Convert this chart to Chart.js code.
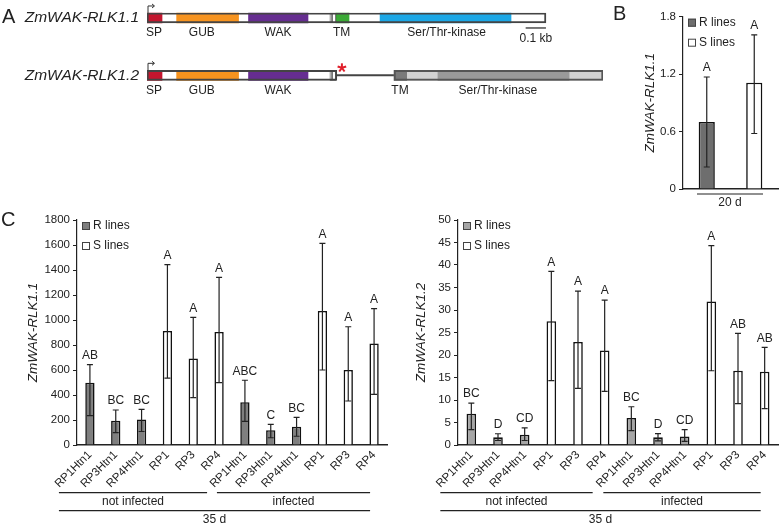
<!DOCTYPE html>
<html>
<head>
<meta charset="utf-8">
<script src="https://cdn.jsdelivr.net/npm/chart.js@4.4.1/dist/chart.umd.min.js"></script>
<style>
  body { margin: 0; background: #fff; width: 782px; height: 526px; overflow: hidden; position: relative; }
  canvas { position: absolute; }
</style>
</head>
<body>
<canvas id="geneA" width="610" height="140" style="left:0;top:-20px"></canvas>
<canvas id="chartB" width="182" height="215" style="left:600px;top:0"></canvas>
<canvas id="chartC1" width="391" height="321" style="left:0;top:205px"></canvas>
<canvas id="chartC2" width="391" height="321" style="left:391px;top:205px"></canvas>
<script>
// ---- panel A : gene models (positions in bp) ----
const geneRows = ['ZmWAK-RLK1.1', 'ZmWAK-RLK1.2'];
const geneSpan = [[0, 1965], [0, 935]];
const tailSpan = [null, [1217, 2246]];
const intronLine = [null, [935, 1217]];
const spDomain = [[0, 74], [0, 74]];
const gubDomain = [[146, 451], [146, 451]];
const wakDomain = [[500, 793], [500, 793]];
const tmBoxA = [[901, 911], [901, 911]];
const tmBoxB = [[911, 931], [911, 931]];
const tmDomain = [[931, 995], [1217, 1279]];
const kinaseDomain = [[1148, 1793], [1433, 2079]];
const domainLabels = ['SP', 'GUB', 'WAK', 'TM', 'Ser/Thr-kinase'];
const labelPos1 = [34, 270, 645, 959, 1476];
const labelPos2 = [34, 270, 645, 1246, 1728];
const scaleBar = [1865, 1965];
const stopCodon = 960;

// ---- panel B ----
const bLabels = ['R lines', 'S lines'];
const bMean = [0.70, 1.11];
const bLow = [0.23, 0.58];
const bHigh = [1.17, 1.61];
const bLetters = ['A', 'A'];

// ---- panel C ----
const lines = ['RP1Htn1', 'RP3Htn1', 'RP4Htn1', 'RP1', 'RP3', 'RP4',
               'RP1Htn1', 'RP3Htn1', 'RP4Htn1', 'RP1', 'RP3', 'RP4'];
const lineType = ['R', 'R', 'R', 'S', 'S', 'S', 'R', 'R', 'R', 'S', 'S', 'S'];
const rlk11Mean = [499, 195, 205, 912, 693, 905, 343, 118, 147, 1073, 600, 813];
const rlk11Low = [235, 99, 108, 535, 379, 499, 189, 58, 70, 600, 352, 405];
const rlk11High = [643, 280, 285, 1443, 1021, 1341, 518, 165, 221, 1613, 946, 1091];
const rlk11Letters = ['AB', 'BC', 'BC', 'A', 'A', 'A', 'ABC', 'C', 'BC', 'A', 'A', 'A'];
const rlk12Mean = [6.97, 1.7, 2.3, 27.5, 22.9, 21.0, 6.0, 1.7, 1.9, 31.9, 16.5, 16.3];
const rlk12Low = [3.4, 1.0, 1.0, 14.3, 12.6, 11.9, 3.2, 0.9, 0.8, 16.5, 9.2, 8.1];
const rlk12High = [9.3, 2.5, 3.8, 38.6, 34.2, 32.2, 8.5, 2.55, 3.4, 44.3, 24.8, 21.7];
const rlk12Letters = ['BC', 'D', 'CD', 'A', 'A', 'A', 'BC', 'D', 'CD', 'A', 'AB', 'AB'];
const groupNames = ['not infected', 'infected'];
const groupIdx = [[0, 5], [6, 11]];

const FONT = '"Liberation Sans", Arial, sans-serif';
Chart.defaults.font.family = FONT;
Chart.defaults.color = '#222';
const INK = '#222';

// ---------- panel A ----------
function seg(data, color, order, extra) {
  return Object.assign({ data: data, backgroundColor: color, order: order, grouped: false,
    barThickness: 10, borderSkipped: false }, extra || {});
}

const geneDecor = {
  id: 'geneDecor',
  afterDatasetsDraw(chart) {
    const ctx = chart.ctx;
    const x = chart.scales.x;
    const ys = chart.getDatasetMeta(0).data.map(b => b.y);
    ctx.save();
    ctx.fillStyle = INK;
    ctx.textBaseline = 'middle';
    ctx.font = '20px ' + FONT;
    ctx.fillText('A', 2, ys[0]);
    ctx.font = 'italic 15.5px ' + FONT;
    ctx.textAlign = 'right';
    geneRows.forEach((g, i) => ctx.fillText(g, 139, ys[i]));
    // domain labels
    ctx.font = '12px ' + FONT;
    ctx.textAlign = 'center';
    domainLabels.forEach((t, k) => {
      ctx.fillText(t, x.getPixelForValue(labelPos1[k]), ys[0] + 15);
      ctx.fillText(t, x.getPixelForValue(labelPos2[k]), ys[1] + 15);
    });
    // transcription start arrows
    ctx.strokeStyle = '#333';
    ctx.lineWidth = 1;
    ys.forEach(y => {
      const x0 = x.getPixelForValue(0) + 1;
      ctx.beginPath();
      ctx.moveTo(x0, y - 5);
      ctx.lineTo(x0, y - 12);
      ctx.lineTo(x0 + 6, y - 12);
      ctx.stroke();
      ctx.beginPath();
      ctx.moveTo(x0 + 4, y - 14);
      ctx.lineTo(x0 + 6.5, y - 12);
      ctx.lineTo(x0 + 4, y - 10);
      ctx.stroke();
    });
    // scale bar
    ctx.lineWidth = 1.3;
    ctx.beginPath();
    ctx.moveTo(x.getPixelForValue(scaleBar[0]), ys[0] + 10);
    ctx.lineTo(x.getPixelForValue(scaleBar[1]), ys[0] + 10);
    ctx.stroke();
    ctx.fillText('0.1 kb', x.getPixelForValue((scaleBar[0] + scaleBar[1]) / 2), ys[0] + 21);
    // premature stop codon asterisk
    const cx = x.getPixelForValue(stopCodon), cy = ys[1] - 7.5;
    ctx.strokeStyle = '#e0202c';
    ctx.lineWidth = 2;
    for (let a = 0; a < 5; a++) {
      const ang = -Math.PI / 2 + a * 2 * Math.PI / 5;
      ctx.beginPath();
      ctx.moveTo(cx, cy);
      ctx.lineTo(cx + 4.5 * Math.cos(ang), cy + 4.5 * Math.sin(ang));
      ctx.stroke();
    }
    ctx.restore();
  }
};

new Chart(document.getElementById('geneA'), {
  type: 'bar',
  data: {
    labels: geneRows,
    datasets: [
      seg(geneSpan, '#ffffff', 10),
      seg(tailSpan, '#d2d2d2', 9),
      seg(intronLine, '#444', 8, { barThickness: 1.3 }),
      seg(spDomain, '#c4162e', 5),
      seg(gubDomain, '#f7931e', 5),
      seg(wakDomain, '#662d91', 5),
      seg(tmDomain, ['#3aaa35', '#7a7a7a'], 5),
      seg(kinaseDomain, ['#1aa7e6', '#9a9a9a'], 5),
      seg(tmBoxA, '#ffffff', 3, { borderColor: '#333', borderWidth: 1 }),
      seg(tmBoxB, '#ffffff', 3, { borderColor: '#333', borderWidth: 1 }),
      seg(geneSpan, 'rgba(0,0,0,0)', 1, { borderColor: '#444', borderWidth: 1.3 }),
      seg(tailSpan, 'rgba(0,0,0,0)', 1, { borderColor: '#555', borderWidth: 1.3 })
    ]
  },
  options: {
    indexAxis: 'y',
    responsive: false,
    animation: false,
    layout: { padding: { left: 147, right: 7, top: 9.3, bottom: 16 } },
    scales: {
      x: { type: 'linear', min: 0, max: 2246, display: false },
      y: { display: false }
    },
    plugins: { legend: { display: false }, tooltip: { enabled: false } }
  },
  plugins: [geneDecor]
});

// ---------- bar panels B and C ----------
function decor(cfg) {
  return {
    id: 'decor',
    afterDatasetsDraw(chart) {
      const ctx = chart.ctx;
      const area = chart.chartArea;
      const xs = chart.scales.x, ys = chart.scales.y;
      ctx.save();
      ctx.fillStyle = INK;
      // panel letter
      ctx.font = '20px ' + FONT;
      ctx.textBaseline = 'middle';
      ctx.textAlign = 'left';
      ctx.fillText(cfg.letter, cfg.letterX, cfg.letterY);
      // y title
      ctx.save();
      ctx.translate(cfg.titleX, (area.top + area.bottom) / 2);
      ctx.rotate(-Math.PI / 2);
      ctx.textAlign = 'center';
      ctx.font = 'italic 13.5px ' + FONT;
      ctx.fillText(cfg.title, 0, 0);
      ctx.restore();
      // legend
      ctx.font = '12px ' + FONT;
      ['R lines', 'S lines'].forEach((t, i) => {
        const ly = area.top + 6 + i * 20;
        ctx.fillStyle = i === 0 ? cfg.rColor : '#fff';
        ctx.fillRect(area.left + 5, ly - 4, 8, 8);
        ctx.strokeStyle = '#444';
        ctx.lineWidth = 1;
        ctx.strokeRect(area.left + 5.5, ly - 3.5, 7, 7);
        ctx.fillStyle = INK;
        ctx.fillText(t, area.left + 16, ly);
      });
      // error bars and letters
      ctx.strokeStyle = INK;
      ctx.lineWidth = 1.2;
      ctx.textAlign = 'center';
      ctx.textBaseline = 'bottom';
      cfg.low.forEach((lo, i) => {
        const cx = xs.getPixelForValue(i);
        const yl = ys.getPixelForValue(lo), yh = ys.getPixelForValue(cfg.high[i]);
        ctx.beginPath();
        ctx.moveTo(cx, yl); ctx.lineTo(cx, yh);
        ctx.moveTo(cx - 3, yl); ctx.lineTo(cx + 3, yl);
        ctx.moveTo(cx - 3, yh); ctx.lineTo(cx + 3, yh);
        ctx.stroke();
        ctx.fillText(cfg.letters[i], cx, yh - 3);
      });
      // group lines under the axis
      ctx.textBaseline = 'middle';
      ctx.lineWidth = 1.2;
      (cfg.groups || []).forEach(g => {
        const x1 = g.from === null ? area.left + g.padL : xs.getPixelForValue(g.from) + g.padL;
        const x2 = g.to === null ? area.right + g.padR : xs.getPixelForValue(g.to) + g.padR;
        ctx.beginPath();
        ctx.moveTo(x1, area.bottom + g.dy);
        ctx.lineTo(x2, area.bottom + g.dy);
        ctx.stroke();
        ctx.fillText(g.text, (x1 + x2) / 2, area.bottom + g.dy + 8.5);
      });
      ctx.restore();
    }
  };
}

function barChart(id, labels, means, colors, yOpts, axisW, xH, padTop, pct, cfg) {
  return new Chart(document.getElementById(id), {
    type: 'bar',
    data: {
      labels: labels,
      datasets: [{
        data: means,
        backgroundColor: colors,
        borderColor: '#111',
        borderWidth: 1.6,
        borderSkipped: 'bottom',
        barPercentage: pct,
        categoryPercentage: 1
      }]
    },
    options: {
      responsive: false,
      animation: false,
      layout: { padding: { left: 0, right: 4, top: padTop, bottom: 0 } },
      scales: {
        x: {
          ticks: xH.ticks,
          grid: { drawOnChartArea: false, drawTicks: false },
          border: { color: INK, width: 1.6 },
          afterFit: s => { s.height = xH.h; }
        },
        y: Object.assign({
          min: 0,
          grid: { drawOnChartArea: false, drawTicks: true, tickLength: 4, color: INK },
          border: { color: INK, width: 1.2 },
          afterFit: s => { s.width = axisW; }
        }, yOpts)
      },
      plugins: { legend: { display: false }, tooltip: { enabled: false } }
    },
    plugins: [decor(cfg)]
  });
}

const xRotTicks = { minRotation: 45, maxRotation: 45, autoSkip: false, padding: 3,
  font: { size: 11.5 }, color: INK };
const plainNum = v => String(v);

barChart('chartB', bLabels, bMean, ['#6e6e6e', '#ffffff'],
  { max: 1.8, ticks: { stepSize: 0.6, padding: 3, font: { size: 11.5 }, color: INK,
      callback: v => v === 0 ? '0' : v.toFixed(1) } },
  83, { h: 26, ticks: { display: false } }, 16.7, 0.34,
  { letter: 'B', letterX: 13, letterY: 14, title: 'ZmWAK-RLK1.1', titleX: 50, rColor: '#6e6e6e',
    low: bLow, high: bHigh, letters: bLetters,
    groups: [{ from: null, to: null, padL: 14, padR: -15, dy: 5, text: '20 d' }] });

function cGroups() {
  return [
    { from: groupIdx[0][0], to: groupIdx[0][1], padL: -31, padR: -12, dy: 47.7, text: groupNames[0] },
    { from: groupIdx[1][0], to: groupIdx[1][1], padL: -28, padR: -4, dy: 47.7, text: groupNames[1] },
    { from: groupIdx[0][0], to: groupIdx[1][1], padL: -31, padR: -4, dy: 65.7, text: '35 d' }
  ];
}

barChart('chartC1', lines, rlk11Mean, lineType.map(t => t === 'R' ? '#7f7f7f' : '#ffffff'),
  { max: 1800, ticks: { stepSize: 200, padding: 3, font: { size: 11.5 }, color: INK, callback: plainNum } },
  77, { h: 81, ticks: xRotTicks }, 15, 0.36,
  { letter: 'C', letterX: 1, letterY: 15, title: 'ZmWAK-RLK1.1', titleX: 33, rColor: '#7f7f7f',
    low: rlk11Low, high: rlk11High, letters: rlk11Letters, groups: cGroups() });

barChart('chartC2', lines, rlk12Mean, lineType.map(t => t === 'R' ? '#a6a6a6' : '#ffffff'),
  { max: 50, ticks: { stepSize: 5, padding: 3, font: { size: 11.5 }, color: INK, callback: plainNum } },
  67, { h: 81, ticks: xRotTicks }, 15, 0.36,
  { letter: '', letterX: 0, letterY: 0, title: 'ZmWAK-RLK1.2', titleX: 30, rColor: '#a6a6a6',
    low: rlk12Low, high: rlk12High, letters: rlk12Letters, groups: cGroups() });
</script>
</body>
</html>
